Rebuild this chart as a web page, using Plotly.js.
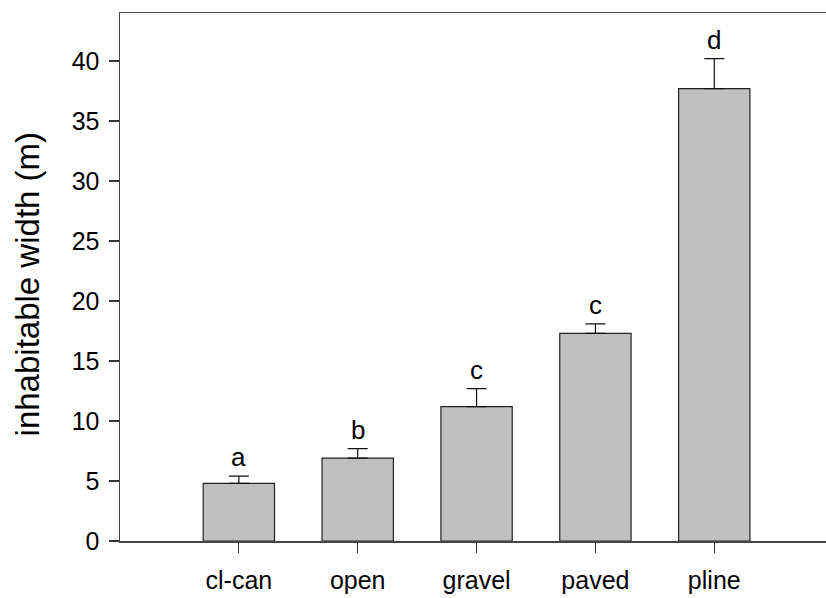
<!DOCTYPE html>
<html>
<head>
<meta charset="utf-8">
<script src="https://cdn.plot.ly/plotly-3.0.1.min.js"></script>
<style>html,body{margin:0;padding:0;background:#fff;}#chart{width:826px;height:598px;}</style>
</head>
<body>
<div id="chart"></div>
<script>
const categories = ["cl-can", "open", "gravel", "paved", "pline"];
const means = [4.8, 6.9, 11.2, 17.3, 37.7];
const errors = [0.6, 0.8, 1.5, 0.8, 2.5];
const groupLetters = ["a", "b", "c", "c", "d"];
const yTicks = [0, 5, 10, 15, 20, 25, 30, 35, 40];
const yTitle = "inhabitable width (m)";

const xIdx = categories.map((c, i) => i);

const trace = {
  type: "bar",
  x: xIdx,
  y: means,
  width: 0.6,
  marker: { color: "#c0c0c0", line: { color: "#222", width: 1.2 } },
  error_y: { type: "data", array: errors, symmetric: false, arrayminus: errors.map(() => 0), color: "#111", thickness: 1.2, width: 10 },
  hoverinfo: "skip"
};

const annotations = xIdx.map((x, i) => ({
  x: x, y: means[i] + errors[i], xref: "x", yref: "y",
  text: groupLetters[i], showarrow: false,
  yanchor: "bottom", yshift: 2,
  font: { family: "Liberation Sans, Arial, sans-serif", size: 26, color: "#000" }
}));
annotations.push({
  xref: "paper", yref: "paper", x: -0.131, y: 0.485,
  xanchor: "center", yanchor: "middle", textangle: -90,
  text: yTitle, showarrow: false,
  font: { family: "Liberation Sans, Arial, sans-serif", size: 33, color: "#000" }
});

const layout = {
  width: 826, height: 598,
  margin: { l: 120, r: 0, t: 13, b: 57 },
  paper_bgcolor: "#fff", plot_bgcolor: "#fff",
  font: { family: "Liberation Sans, Arial, sans-serif", size: 25, color: "#000" },
  showlegend: false,
  xaxis: {
    range: [-1, 4.94],
    tickvals: xIdx, ticktext: categories,
    ticks: "outside", ticklen: 10, tickwidth: 1.2, tickcolor: "#333",
    showline: true, linecolor: "#444", linewidth: 1.5, mirror: true,
    showgrid: false, zeroline: false,
    ticklabelstandoff: 6,
    tickfont: { size: 25 }
  },
  yaxis: {
    range: [0, 44],
    tickvals: yTicks,
    ticks: "outside", ticklen: 10, tickwidth: 1.2, tickcolor: "#333",
    showline: true, linecolor: "#444", linewidth: 1.5,
    showgrid: false, zeroline: false,
    ticklabelstandoff: 4,
    tickfont: { size: 25 }
  },
  annotations: annotations
};

Plotly.newPlot("chart", [trace], layout, { staticPlot: true, displayModeBar: false });
</script>
</body>
</html>
